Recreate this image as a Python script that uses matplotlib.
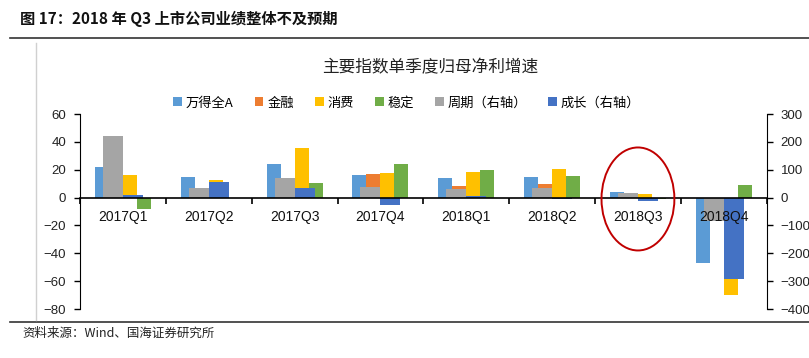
import matplotlib
matplotlib.use("Agg")
import matplotlib.pyplot as plt
import numpy as np
from matplotlib.patches import Ellipse
from matplotlib.lines import Line2D
from matplotlib.patches import Patch

plt.rcParams['font.family'] = ['Noto Sans CJK SC', 'DejaVu Sans']

categories = ['2017Q1', '2017Q2', '2017Q3', '2017Q4', '2018Q1', '2018Q2', '2018Q3', '2018Q4']
wind_a = [21.6, 14.9, 24.0, 16.1, 13.9, 15.1, 3.8, -47.0]
finance = [12.0, 5.0, 10.0, 16.8, 8.2, 9.4, 2.0, -8.0]
consume = [16.1, 12.5, 35.5, 17.3, 18.2, 20.6, 2.6, -70.3]
stable = [-7.9, 0.0, 10.6, 24.0, 19.7, 15.4, -1.0, 8.9]
cycle_r = [221, 36, 72, 37, 29, 36, 16, -84]
growth_r = [11, 55, 34, -25, 5, -6, -12, -292]

left_names = ['万得全A', '金融', '消费', '稳定']
right_names = ['周期（右轴）', '成长（右轴）']
left_colors = ['#5B9BD5', '#ED7D31', '#FFC000', '#70AD47']
right_colors = ['#A5A5A5', '#4472C4']

fig = plt.figure(figsize=(8.09, 3.58), dpi=100)
W, H = 809, 358
ax = fig.add_axes([80 / W, 1 - 309 / H, (766.7 - 80) / W, (309 - 114) / H])
ax2 = ax.twinx()
ax2.set_axisbelow(False)

x = np.arange(len(categories))
w1 = 14 / 86
w2 = 20 / 86
for i, (vals, c) in enumerate(zip([wind_a, finance, consume, stable], left_colors)):
    ax.bar(x + (i - 1.5) * w1, vals, width=w1, color=c, zorder=2)
for i, (vals, c) in enumerate(zip([cycle_r, growth_r], right_colors)):
    ax2.bar(x + (i - 0.5) * w2, vals, width=w2, color=c, zorder=2)

ax.set_xlim(-0.5, len(categories) - 0.5)
ax.set_ylim(-80, 60)
ax2.set_ylim(-400, 300)
ax.set_yticks(np.arange(-80, 61, 20))
ax2.set_yticks(np.arange(-400, 301, 100))

for a in (ax, ax2):
    a.spines['top'].set_visible(False)
    a.spines['bottom'].set_visible(False)
ax.spines['right'].set_visible(False)
ax2.spines['left'].set_visible(False)
ax.spines['left'].set_color('black')
ax2.spines['right'].set_color('black')

ax.tick_params(axis='y', direction='out', length=4, width=1, labelsize=9.5, pad=6)
ax2.tick_params(axis='y', direction='out', length=4, width=1, labelsize=9.5, pad=6)
for lab in ax.get_yticklabels() + ax2.get_yticklabels():
    lab.set_fontfamily('Liberation Sans')
    lab.set_color('#222222')

# x axis on ax2 at zero so it sits over bars
ax.xaxis.set_visible(False)
ax2.xaxis.set_visible(True)
ax2.spines['bottom'].set_visible(True)
ax2.spines['bottom'].set_position(('data', 0))
ax2.spines['bottom'].set_color('black')
ax2.spines['bottom'].set_linewidth(1.2)
ax2.set_xticks(x)
ax2.set_xticklabels(categories, fontfamily='Liberation Sans', fontsize=10, color='#111111')
ax2.set_xticks(np.arange(-0.5, len(categories), 1), minor=True)
ax2.tick_params(axis='x', which='major', length=0, pad=9)
ax2.tick_params(axis='x', which='minor', direction='out', length=4, width=1.2)

# red highlight ellipse
ell = Ellipse((6, -1), width=73 / 86, height=103 * 140 / 195,
              fill=False, edgecolor='#C00000', linewidth=1.4, zorder=10, clip_on=False)
ax2.add_artist(ell)
ell.set_transform(ax.transData)

# legend
handles = [Patch(facecolor=c, edgecolor='none') for c in left_colors + right_colors]
labels = left_names + right_names
fig.legend(handles, labels, ncol=6, loc='center', bbox_to_anchor=(407 / W, 1 - 103 / H),
           frameon=False, fontsize=9.5, handlelength=0.65, handleheight=0.65,
           handletextpad=0.3, columnspacing=1.6, borderaxespad=0)

# titles and frame
fig.text(430 / W, 1 - 68 / H, '主要指数单季度归母净利增速', ha='center', va='center',
         fontsize=12, color='#222222')
fig.text(20 / W, 1 - 19 / H, '图 17：2018 年 Q3 上市公司业绩整体不及预期', ha='left', va='center',
         fontsize=11, fontweight='bold', color='#111111')
fig.text(22 / W, 1 - 333 / H, '资料来源：Wind、国海证券研究所', ha='left', va='center',
         fontsize=9, color='#222222')
fig.add_artist(Line2D([10 / W, 1], [1 - 38 / H, 1 - 38 / H], transform=fig.transFigure,
                      color='#333333', linewidth=1.2))
fig.add_artist(Line2D([10 / W, 1], [1 - 322 / H, 1 - 322 / H], transform=fig.transFigure,
                      color='#333333', linewidth=1.2))
fig.add_artist(Line2D([35.5 / W, 35.5 / W], [1 - 43 / H, 1 - 320 / H], transform=fig.transFigure,
                      color='#D0D0D0', linewidth=1))

fig.savefig('out.png', dpi=100)
